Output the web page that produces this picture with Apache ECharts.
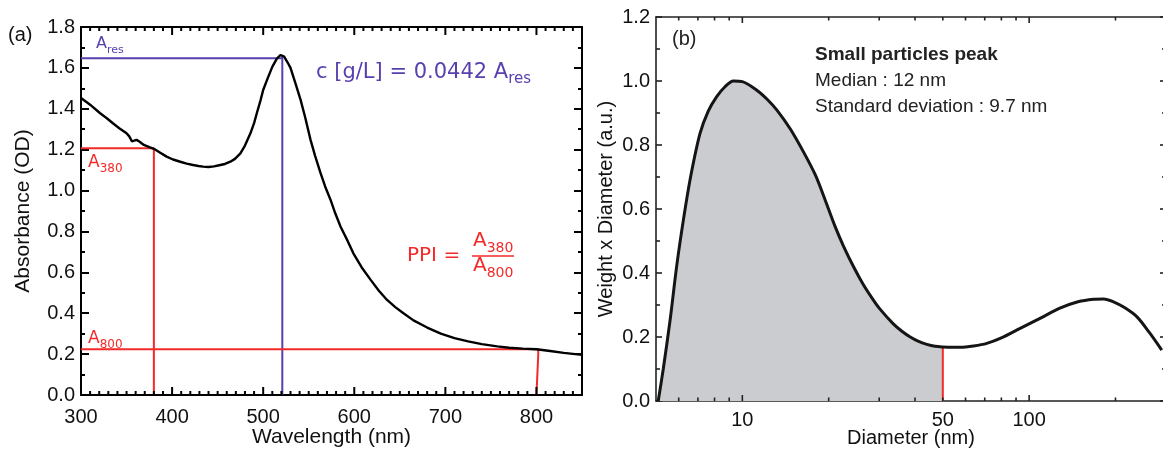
<!DOCTYPE html>
<html><head><meta charset="utf-8">
<script src="https://cdn.jsdelivr.net/npm/echarts@6/dist/echarts.min.js"></script>
<style>html,body{margin:0;padding:0;background:#fff}#c{width:1163px;height:450px}</style>
</head><body><div id="c"></div>
<script>
// ---------- Panel (a): absorbance spectrum ----------
const wavelength = [300,303,310,321,328,335,342,350,353,356,358,361,364,369,375,380,387,394,401,409,416,423,429,434,440,446,453,458,464,469,475,480,486,490,493,497,500,505,510,515,519,523,527,530,535,541,546,552,557,563,568,574,579,585,592,599,608,618,627,636,645,654,665,680,695,710,725,740,757,770,785,800,815,830,850];
const absorbance = [1.453,1.443,1.42,1.378,1.355,1.329,1.305,1.28,1.265,1.24,1.238,1.248,1.24,1.223,1.212,1.204,1.185,1.166,1.152,1.141,1.132,1.125,1.12,1.117,1.115,1.118,1.125,1.13,1.141,1.155,1.182,1.22,1.28,1.33,1.378,1.44,1.492,1.55,1.605,1.645,1.663,1.655,1.625,1.6,1.53,1.445,1.36,1.248,1.17,1.085,1.02,0.954,0.89,0.823,0.76,0.693,0.625,0.563,0.51,0.465,0.43,0.40,0.365,0.33,0.30,0.278,0.262,0.249,0.238,0.231,0.227,0.2235,0.215,0.206,0.196];
const aLabelTicks = [300,400,500,600,700,800];
const aMajorTicks = [300,400,500,600,700,800];
const aMinorTicks = [];
for (let w = 310; w < 850; w += 10) if (w % 100 !== 0) aMinorTicks.push(w);
const A_RES = 1.647, WL_RES = 521, RES_TOP = 1.657;
const A_380 = 1.207, WL_380 = 380;
const A_800 = 0.2235, WL_800 = 800;

// ---------- Panel (b): size distribution ----------
const diameter = [5.09,5.3,5.6,5.9,6.23,6.6,7.12,7.6,8.14,8.7,9.31,10,11.2,12.2,13.2,14.7,16.3,18,19.5,21,22.5,24.5,26.4,28.6,30.2,33.6,36,38.5,41,44,47,50,54,57.5,64,71.2,80,93,110,128,148,167.6,182,196.8,215,237.7,262,290];
const weightDiam = [0,0.10,0.253,0.42,0.566,0.70,0.836,0.905,0.951,0.982,1.0,0.998,0.972,0.943,0.909,0.85,0.78,0.705,0.625,0.548,0.485,0.417,0.364,0.316,0.287,0.241,0.218,0.200,0.187,0.177,0.171,0.169,0.168,0.168,0.172,0.18,0.197,0.227,0.26,0.29,0.31,0.318,0.319,0.31,0.292,0.263,0.215,0.159];
const FIRST_PEAK_END = 50;
const bMajorTicks = [10,100];
const bMinorTicks = [6,7,8,9,20,30,40,50,60,70,80,90,200];
const bLabelTicks = [10,50,100];

const PURPLE = '#5a3fae', RED = '#f42a2a';
const tickFont = {fontFamily:'Liberation Sans', fontSize:20, color:'#111'};

const spectrum = wavelength.map((w,i)=>[w,absorbance[i]]);
const dist = diameter.map((d,i)=>[d,weightDiam[i]]);
const firstPeak = dist.filter(p=>p[0] <= FIRST_PEAK_END);

const axLineA = {show:true, onZero:false, lineStyle:{color:'#000', width:2}};
const axLineB = {show:true, onZero:false, lineStyle:{color:'#222', width:1.6}};

const xAxes = [
  {type:'value', gridIndex:0, min:300, max:850, interval:100, position:'bottom', splitLine:{show:false},
    axisLine:axLineA, axisTick:{show:false},
    axisLabel:Object.assign({show:true, margin:12, customValues:aLabelTicks}, tickFont),
    name:'Wavelength (nm)', nameLocation:'middle', nameGap:32, nameMoveOverlap:false,
    nameTextStyle:{fontFamily:'Liberation Sans', fontSize:21, color:'#111'}},
  {type:'value', gridIndex:0, min:300, max:850, interval:100, position:'top', splitLine:{show:false},
    axisLine:axLineA, axisTick:{show:false}, axisLabel:{show:false}},
  {type:'log', logBase:10, gridIndex:1, min:5, max:300, position:'bottom', splitLine:{show:false},
    axisLine:axLineB, axisTick:{show:false},
    axisLabel:Object.assign({show:true, margin:9, customValues:bLabelTicks}, tickFont),
    name:'Diameter (nm)', nameLocation:'middle', nameGap:27, nameMoveOverlap:false,
    nameTextStyle:{fontFamily:'Liberation Sans', fontSize:20, color:'#111'}},
  {type:'log', logBase:10, gridIndex:1, min:5, max:300, position:'top', splitLine:{show:false},
    axisLine:axLineB, axisTick:{show:false}, axisLabel:{show:false}}
];

const yAxes = [
  {type:'value', gridIndex:0, min:0, max:1.8, interval:0.2, position:'left', splitLine:{show:false},
    axisLine:axLineA,
    axisTick:{show:true, inside:true, length:8, lineStyle:{color:'#000',width:2}},
    minorTick:{show:true, splitNumber:2, length:4, lineStyle:{color:'#000',width:2}},
    axisLabel:Object.assign({show:true, margin:6, formatter:v=>v.toFixed(1)}, tickFont),
    name:'Absorbance (OD)', nameLocation:'middle', nameGap:47,
    nameTextStyle:{fontFamily:'Liberation Sans', fontSize:21, color:'#111'}},
  {type:'value', gridIndex:0, min:0, max:1.8, interval:0.2, position:'right', splitLine:{show:false},
    axisLine:axLineA,
    axisTick:{show:true, inside:true, length:8, lineStyle:{color:'#000',width:2}},
    minorTick:{show:true, splitNumber:2, length:4, lineStyle:{color:'#000',width:2}},
    axisLabel:{show:false}},
  {type:'value', gridIndex:1, min:0, max:1.2, interval:0.2, position:'left', splitLine:{show:false},
    axisLine:axLineB, axisTick:{show:true, inside:true, length:6, lineStyle:{color:'#222',width:1.6}},
    minorTick:{show:true, splitNumber:2, length:4, lineStyle:{color:'#222',width:1.6}},
    axisLabel:Object.assign({show:true, margin:6, formatter:v=>v.toFixed(1)}, tickFont),
    name:'Weight x Diameter (a.u.)', nameLocation:'middle', nameGap:40,
    nameTextStyle:{fontFamily:'Liberation Sans', fontSize:20, color:'#111'}},
  {type:'value', gridIndex:1, min:0, max:1.2, interval:0.2, position:'right', splitLine:{show:false},
    axisLine:{show:false}, axisTick:{show:true, inside:true, length:6, lineStyle:{color:'#222',width:1.6}},
    minorTick:{show:true, splitNumber:2, length:4, lineStyle:{color:'#222',width:1.6}},
    axisLabel:{show:false}}
];

function lineSeries(data, color, width, xi, yi, extra){
  return Object.assign({type:'line', data, xAxisIndex:xi, yAxisIndex:yi, showSymbol:false, symbol:'none',
    smooth:false, lineStyle:{color, width}, silent:true, animation:false}, extra||{});
}

// x-axis tick marks (bottom and top), positioned by the axis scale
function tickSeries(values, xi, yi, yMin, yMax, len, color, width){
  return {type:'custom', xAxisIndex:xi, yAxisIndex:yi, silent:true, clip:false, animation:false, z:5,
    data: values.map(v=>[v, yMin]),
    encode:{x:0, y:1},
    renderItem:(params, api)=>{
      const v = api.value(0);
      const b = api.coord([v, yMin]);
      const t = api.coord([v, yMax]);
      return {type:'group', children:[
        {type:'line', shape:{x1:b[0], y1:b[1], x2:b[0], y2:b[1]-len}, style:{stroke:color, lineWidth:width}},
        {type:'line', shape:{x1:t[0], y1:t[1], x2:t[0], y2:t[1]+len}, style:{stroke:color, lineWidth:width}}
      ]};
    }};
}

const series = [
  lineSeries([[300,A_RES],[WL_RES,A_RES]], PURPLE, 2, 0, 0),
  lineSeries([[WL_RES,RES_TOP],[WL_RES,0]], PURPLE, 2, 0, 0),
  lineSeries([[300,A_380],[WL_380,A_380],[WL_380,0]], RED, 2, 0, 0),
  lineSeries([[300,A_800],[WL_800+2,A_800],[WL_800+2,0.2],[WL_800,0.2],[WL_800,0]], RED, 2, 0, 0),
  lineSeries(spectrum, '#000', 2.4, 0, 0),
  tickSeries(aMajorTicks, 0, 0, 0, 1.8, 8, '#000', 2),
  tickSeries(aMinorTicks, 0, 0, 0, 1.8, 4, '#000', 2),
  // panel b
  lineSeries(firstPeak, 'rgba(0,0,0,0)', 0, 2, 2, {smooth:0.3, areaStyle:{color:'#cbcccf', opacity:1}}),
  lineSeries([[FIRST_PEAK_END,0],[FIRST_PEAK_END,0.169]], RED, 2, 2, 2),
  lineSeries(dist, '#151515', 3, 2, 2, {smooth:0.3}),
  tickSeries(bMajorTicks, 2, 2, 0, 1.2, 6, '#222', 1.6),
  tickSeries(bMinorTicks, 2, 2, 0, 1.2, 3.5, '#222', 1.6)
];

const sub = (main, s, color, fs, sfs) => ({
  text:`{m|${main}}{s|${s}}`,
  rich:{
    m:{fontFamily:'DejaVu Sans', fontSize:fs, fill:color, lineHeight:fs+8, verticalAlign:'middle'},
    s:{fontFamily:'DejaVu Sans', fontSize:sfs, fill:color, lineHeight:sfs, verticalAlign:'bottom'}
  }
});

const graphic = [
  {type:'text', left:8, top:25, style:{text:'(a)', fontFamily:'Liberation Sans', fontSize:20, fill:'#111'}},
  {type:'text', left:96, top:36, style:sub('A','res',PURPLE,16,11)},
  {type:'text', left:88, top:154, style:sub('A','380',RED,17,12)},
  {type:'text', left:88, top:330, style:sub('A','800',RED,17,12)},
  {type:'text', left:316, top:62, style:{text:'{m|c [g/L] = 0.0442 A}{s|res}', rich:{
    m:{fontFamily:'DejaVu Sans', fontSize:21, fill:PURPLE, lineHeight:29, verticalAlign:'middle'},
    s:{fontFamily:'DejaVu Sans', fontSize:15, fill:PURPLE, lineHeight:15, verticalAlign:'bottom'}}}},
  {type:'text', left:407, top:246, style:{text:'PPI =', fontFamily:'DejaVu Sans', fontSize:20, fill:RED}},
  {type:'text', left:473, top:231, style:sub('A','380',RED,20,14)},
  {type:'line', shape:{x1:472, y1:256, x2:514, y2:256}, style:{stroke:RED, lineWidth:1.5}},
  {type:'text', left:473, top:256, style:sub('A','800',RED,20,14)},
  // panel b
  {type:'text', left:672, top:29, style:{text:'(b)', fontFamily:'Liberation Sans', fontSize:20, fill:'#222'}},
  {type:'text', left:815, top:45, style:{text:'Small particles peak', fontFamily:'Liberation Sans', fontWeight:'bold', fontSize:19, fill:'#222'}},
  {type:'text', left:815, top:71, style:{text:'Median : 12 nm', fontFamily:'Liberation Sans', fontSize:19, fill:'#222'}},
  {type:'text', left:815, top:97, style:{text:'Standard deviation : 9.7 nm', fontFamily:'Liberation Sans', fontSize:19, fill:'#222'}},
  {type:'text', left:714, top:272, style:{text:'First peak', fontFamily:'DejaVu Sans', fontSize:20, fill:'#333'}}
];

const chart = echarts.init(document.getElementById('c'));
chart.setOption({
  animation:false,
  backgroundColor:'#fff',
  grid:[
    {left:81, top:27, width:501, height:368, outerBoundsMode:'none', containLabel:false},
    {left:656, top:17, width:510, height:384, outerBoundsMode:'none', containLabel:false}
  ],
  xAxis:xAxes,
  yAxis:yAxes,
  series,
  graphic
});
</script>
</body></html>
